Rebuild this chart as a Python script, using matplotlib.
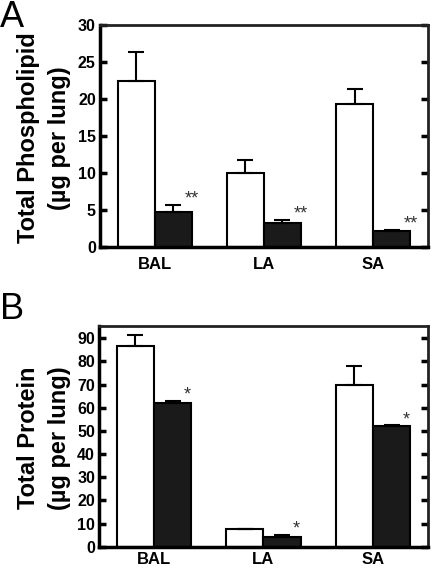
import numpy as np
import matplotlib
matplotlib.use("Agg")
import matplotlib.pyplot as plt

plt.rcParams['font.family'] = ['Liberation Sans', 'DejaVu Sans']

groups = ["BAL", "LA", "SA"]

# Panel A - total phospholipid
pl_open = [22.5, 10.0, 19.3]
pl_open_err = [3.9, 1.8, 2.0]
pl_filled = [4.7, 3.2, 2.1]
pl_filled_err = [1.0, 0.5, 0.2]
pl_marks = ["**", "**", "**"]

# Panel B - total protein
pr_open = [86.5, 7.5, 70.0]
pr_open_err = [5.0, 0.2, 8.0]
pr_filled = [62.0, 4.3, 52.0]
pr_filled_err = [1.0, 0.8, 0.5]
pr_marks = ["*", "*", "*"]

fig = plt.figure(figsize=(4.33, 5.69), dpi=100)
ax_a = fig.add_axes([0.231, 0.566, 0.757, 0.390])
ax_b = fig.add_axes([0.229, 0.039, 0.759, 0.388])

w = 0.34


def panel(ax, openv, opene, filledv, fillede, marks, ylim, yticks, star_dx, xpad):
    x = np.arange(len(groups))
    ax.bar(x - w / 2, openv, w, color="white", edgecolor="black", linewidth=1.5,
           yerr=[np.zeros(3), opene], error_kw=dict(ecolor="black", elinewidth=1.5,
                                                     capsize=6, capthick=1.5))
    ax.bar(x + w / 2, filledv, w, color="#1a1a1a", edgecolor="black", linewidth=1.5,
           yerr=[np.zeros(3), fillede], error_kw=dict(ecolor="black", elinewidth=1.5,
                                                       capsize=6, capthick=1.5))
    for i in range(len(groups)):
        ax.annotate(marks[i], (x[i] + star_dx, filledv[i] + fillede[i]),
                    xytext=(0, 4), textcoords="offset points",
                    ha="center", va="center", fontsize=13, color="#333333")
    ax.set_xlim(-0.5, 2.5)
    ax.set_ylim(*ylim)
    ax.set_yticks(yticks)
    ax.set_xticks(x)
    ax.set_xticklabels(groups, fontweight="bold", fontsize=12)
    ax.tick_params(axis="x", length=0, pad=xpad)
    ax.tick_params(axis="y", direction="in", length=5, width=2.5, right=True,
                   labelsize=11.5, pad=3)
    for lab in ax.get_yticklabels():
        lab.set_fontweight("bold")
    for s in ["left", "bottom"]:
        ax.spines[s].set_linewidth(2.5)
    for s in ["top", "right"]:
        ax.spines[s].set_linewidth(2.0)
        ax.spines[s].set_color("#222222")


panel(ax_a, pl_open, pl_open_err, pl_filled, pl_filled_err, pl_marks,
      (0, 30), np.arange(0, 31, 5), 0.34, 7)
panel(ax_b, pr_open, pr_open_err, pr_filled, pr_filled_err, pr_marks,
      (0, 95.3), np.arange(0, 91, 10), 0.30, 4)

fig.text(44 / 433, 1 - 138 / 569, "Total Phospholipid\n(\u00b5g per lung)",
         rotation=90, ha="center", va="center", fontsize=17, fontweight="bold",
         multialignment="center", linespacing=1.45)
fig.text(44 / 433, 1 - 438 / 569, "Total Protein\n(\u00b5g per lung)",
         rotation=90, ha="center", va="center", fontsize=17, fontweight="bold",
         multialignment="center", linespacing=1.45)

fig.text(0.0, 1.0, "A", fontsize=26, ha="left", va="top")
fig.text(0.0, 1 - 292 / 569, "B", fontsize=26, ha="left", va="top")

fig.savefig("out.png", dpi=100)
